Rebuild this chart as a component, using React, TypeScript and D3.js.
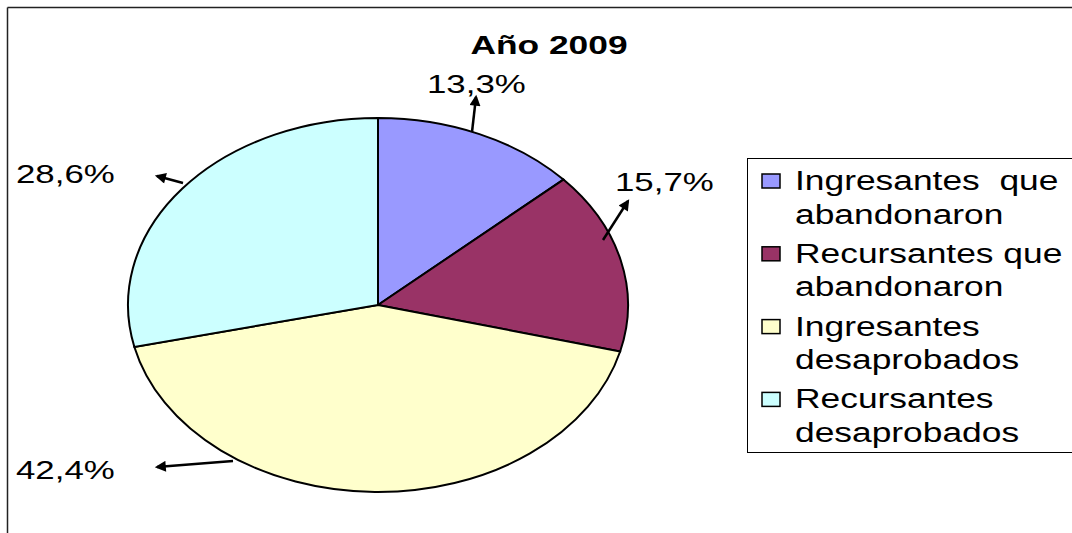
import React from 'react';
import * as d3 from 'd3';

// Pie "Año 2009" - values and legend text
const title = 'Año 2009';
const values = [13.3, 15.7, 42.4, 28.6];
const legendLines = [
  ['Ingresantes  que', 'abandonaron'],
  ['Recursantes que', 'abandonaron'],
  ['Ingresantes', 'desaprobados'],
  ['Recursantes', 'desaprobados'],
];
const colors = ['#9999FF', '#993366', '#FFFFCC', '#CCFFFF'];

// hand placed callouts (label baseline anchor, arrow tail -> tip), same order as values
const callouts = [
  { lx: 427, ly: 93, tail: [472, 132], tip: [476, 97] },
  { lx: 615, ly: 191, tail: [603, 240], tip: [628, 201] },
  { lx: 16, ly: 479, tail: [233, 461], tip: [157, 467] },
  { lx: 16, ly: 183, tail: [183, 183], tip: [157, 176] },
];

const width = 1072;
const height = 533;
const cx = 378;
const cy = 305;
const rx = 250;
const ry = 187;
const font = 'Liberation Sans, Arial, sans-serif';

const fmt = (v: number) => v.toFixed(1).replace('.', ',') + '%';

const App = () => {
  const slices = d3.pie<number>().sort(null).value(d => d)(values);
  const arc = d3.arc<d3.PieArcDatum<number>>().innerRadius(0).outerRadius(ry);

  const legend = { x: 747, y: 158, bottom: 452, first: 190, pitch: 72.8, line: 33.6 };

  return (
    <svg width={width} height={height} style={{ position: 'absolute', left: 0, top: 0, background: '#fff' }}>
      <defs>
        <marker id="arrow" viewBox="0 0 10 10" refX="8" refY="5" markerWidth="5" markerHeight="4.4" orient="auto">
          <path d="M0,0 L10,5 L0,10 z" fill="#000" />
        </marker>
      </defs>

      {/* frame: only top and left edges are visible */}
      <line x1={7.5} y1={7.5} x2={width} y2={7.5} stroke="#222" strokeWidth={1.5} />
      <line x1={7.5} y1={7.5} x2={7.5} y2={height} stroke="#222" strokeWidth={1.5} />

      <text
        transform={`translate(549, 54) scale(1.36, 1)`}
        textAnchor="middle"
        fontFamily={font}
        fontWeight="bold"
        fontSize={26}
      >
        {title}
      </text>

      <g transform={`translate(${cx}, ${cy}) scale(${rx / ry}, 1)`}>
        {slices.map((s, i) => (
          <path
            key={i}
            d={arc(s) || ''}
            fill={colors[i]}
            stroke="#000"
            strokeWidth={2}
            vectorEffect="non-scaling-stroke"
          />
        ))}
      </g>

      {callouts.map((c, i) => (
        <g key={i}>
          <line
            x1={c.tail[0]}
            y1={c.tail[1]}
            x2={c.tip[0]}
            y2={c.tip[1]}
            stroke="#000"
            strokeWidth={2.5}
            markerEnd="url(#arrow)"
          />
          <text transform={`translate(${c.lx}, ${c.ly}) scale(1.34, 1)`} fontFamily={font} fontSize={26}>
            {fmt(values[i])}
          </text>
        </g>
      ))}

      {/* legend */}
      <rect
        x={legend.x + 0.5}
        y={legend.y + 0.5}
        width={width}
        height={legend.bottom - legend.y}
        fill="#fff"
        stroke="#000"
        strokeWidth={1}
      />
      {legendLines.map((lines, i) => {
        const base = legend.first + i * legend.pitch;
        return (
          <g key={i}>
            <rect x={762} y={base - 16} width={18} height={14} fill={colors[i]} stroke="#000" strokeWidth={1.5} />
            {lines.map((t, j) => (
              <text
                key={j}
                transform={`translate(795, ${base + j * legend.line}) scale(1.31, 1)`}
                fontFamily={font}
                fontSize={27}
                style={{ whiteSpace: 'pre' }}
              >
                {t}
              </text>
            ))}
          </g>
        );
      })}
    </svg>
  );
};

export default App;
